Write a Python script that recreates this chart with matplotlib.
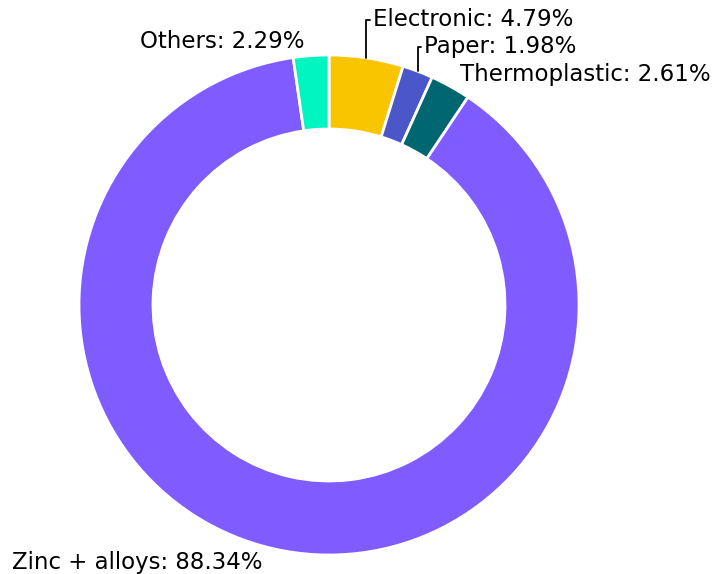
import numpy as np
import matplotlib.pyplot as plt

labels = ['Electronic', 'Paper', 'Thermoplastic', 'Zinc + alloys', 'Others']
shares = [4.79, 1.98, 2.61, 88.34, 2.29]
colors = ['#F9C500', '#4B57C8', '#006770', '#7F5CFF', '#00F5C0']

# label anchors (pixel-ish coords, y up) and alignment
label_pos = {
    'Electronic': (373, 554, 'left'),
    'Paper': (424, 527, 'left'),
    'Thermoplastic': (460, 500, 'left'),
    'Zinc + alloys': (12, 11, 'left'),
    'Others': (305, 533, 'right'),
}
leaders = ['Electronic', 'Paper']

W, H = 714, 574
cx, cy, r_out, width = 329, 269, 250, 74

fig = plt.figure(figsize=(W / 100, H / 100), dpi=100)
ax = fig.add_axes([0, 0, 1, 1])

wedges, _ = ax.pie(shares, colors=colors, startangle=90, counterclock=False,
                   center=(cx, cy), radius=r_out, frame=True,
                   wedgeprops=dict(width=width, edgecolor='white', linewidth=2))
ax.set_xlim(0, W)
ax.set_ylim(0, H)
ax.set_aspect('auto')
ax.axis('off')

for w, lab, val in zip(wedges, labels, shares):
    tx, ty, ha = label_pos[lab]
    text = f'{lab}: {val:.2f}%'
    if lab in leaders:
        ang = np.deg2rad((w.theta1 + w.theta2) / 2)
        px = cx + r_out * np.cos(ang)
        py = cy + r_out * np.sin(ang)
        ax.annotate(text, xy=(px, py), xytext=(tx, ty), ha=ha, va='center',
                    fontsize=16.5,
                    arrowprops=dict(arrowstyle='-', color='black', lw=1.3,
                                    shrinkA=0, shrinkB=0, relpos=(0, 0.5),
                                    connectionstyle='angle,angleA=0,angleB=90,rad=0'))
    else:
        ax.text(tx, ty, text, ha=ha, va='center', fontsize=16.5)

fig.savefig('out.png', dpi=100)
